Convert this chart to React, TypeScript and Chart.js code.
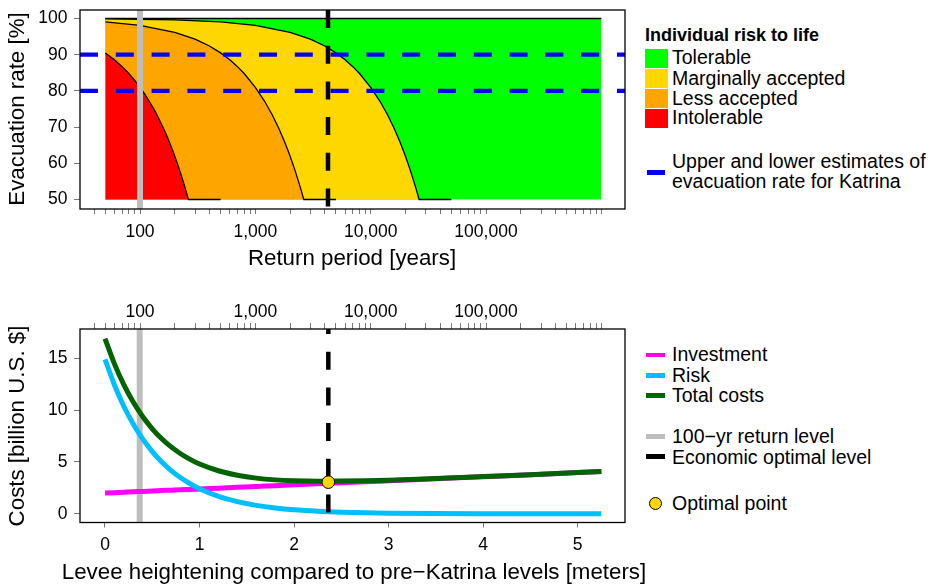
import React, { useEffect, useRef } from 'react';
import { Chart, registerables } from 'chart.js';

Chart.register(...registerables);

const FONT = "'Liberation Sans', Arial, Helvetica, sans-serif";

// ---------------- Top panel data ----------------
const returnPeriodTicks = [
  40, 50, 60, 70, 80, 90,
  100, 200, 300, 400, 500, 600, 700, 800, 900,
  1000, 2000, 3000, 4000, 5000, 6000, 7000, 8000, 9000,
  10000, 20000, 30000, 40000, 50000, 60000, 70000, 80000, 90000,
  100000, 200000, 300000, 400000, 500000, 600000, 700000, 800000, 900000,
  1000000,
];
const returnPeriodLabels = [100, 1000, 10000, 100000];
const evacuationTicks = [50, 60, 70, 80, 90, 100];
const katrinaEvacuation = [90, 80];
const returnPeriod100yr = 100;
const returnPeriodOptimal = 4266;

// Boundaries of the individual-risk classes (return period [years], evacuation rate [%])
const intolerableT = [50, 60, 70, 80, 90, 100, 110, 120, 135, 150, 165, 180, 195, 210, 225, 240, 252, 263, 500];
const intolerableE = [90.5, 88.6, 86.7, 84.8, 82.9, 81.0, 79.1, 77.2, 74.4, 71.5, 68.7, 65.8, 63.0, 60.1, 57.3, 54.4, 52.1, 50.0, 50.0];
const lessAcceptedT = [50, 100, 200, 300, 400, 500, 600, 700, 800, 1000, 1200, 1400, 1600, 1800, 2000, 2200, 2400, 2520, 2630, 5000];
const lessAcceptedE = [99.05, 98.1, 96.2, 94.3, 92.4, 90.5, 88.6, 86.7, 84.8, 81.0, 77.2, 73.4, 69.6, 65.8, 62.0, 58.2, 54.4, 52.1, 50.0, 50.0];
const marginalT = [50, 200, 500, 1000, 2000, 3000, 4000, 5000, 6000, 7000, 8000, 10000, 12000, 14000, 16000, 18000, 20000, 22000, 24000, 25200, 26300, 50000];
const marginalE = [99.9, 99.6, 99.05, 98.1, 96.2, 94.3, 92.4, 90.5, 88.6, 86.7, 84.8, 81.0, 77.2, 73.4, 69.6, 65.8, 62.0, 58.2, 54.4, 52.1, 50.0, 50.0];
const tolerableT = [50, 1000000];
const tolerableE = [100, 100];

const riskClasses = ['Tolerable', 'Marginally accepted', 'Less accepted', 'Intolerable'];
const riskColors = ['#00FF00', '#FFD700', '#FFA500', '#FF0000'];

// ---------------- Bottom panel data ----------------
const leveeHeight = [0, 0.1, 0.2, 0.3, 0.4, 0.5, 0.6, 0.7, 0.8, 0.9, 1.0, 1.2, 1.4, 1.6, 1.8, 2.0, 2.25, 2.5, 2.75, 3.0, 3.5, 4.0, 4.5, 5.0, 5.25];
const investmentCost = [2.00, 2.04, 2.08, 2.12, 2.16, 2.20, 2.24, 2.28, 2.32, 2.35, 2.39, 2.47, 2.55, 2.63, 2.71, 2.79, 2.89, 2.99, 3.08, 3.18, 3.38, 3.58, 3.77, 3.97, 4.07];
const riskCost = [14.9, 12.42, 10.35, 8.63, 7.20, 6.00, 5.00, 4.17, 3.47, 2.90, 2.41, 1.68, 1.17, 0.81, 0.56, 0.39, 0.25, 0.16, 0.10, 0.063, 0.025, 0.010, 0.004, 0.002, 0.001];
const totalCost = [16.90, 14.46, 12.43, 10.75, 9.36, 8.20, 7.24, 6.45, 5.79, 5.25, 4.80, 4.15, 3.72, 3.44, 3.27, 3.18, 3.14, 3.15, 3.18, 3.24, 3.41, 3.59, 3.77, 3.97, 4.07];
const costTicks = [0, 5, 10, 15];
const leveeTicks = [0, 1, 2, 3, 4, 5];
const levee100yr = 0.367;
const leveeOptimal = 2.362;
const optimalCost = 3.05;

const costSeries = ['Investment', 'Risk', 'Total costs'];
const costColors = ['#FF00FF', '#00BFFF', '#006400'];

// ---------------- helpers ----------------
const TOP_X_MIN = 30.18, TOP_X_MAX = 1.604e6, TOP_Y_MIN = 47.38, TOP_Y_MAX = 102.35;
const BOT_X_MIN = -0.2644, BOT_X_MAX = 5.5, BOT_Y_MIN = -0.84, BOT_Y_MAX = 17.82;

const tickFont = { family: FONT, size: 17.5, lineHeight: 1 };
const TICK_COLOR = '#777';

const xy = (xs: number[], ys: number[]) => xs.map((x, i) => ({ x, y: ys[i] }));

const lineDs = (data: any[], color: string, width: number, extra: any = {}) => ({
  data,
  xAxisID: 'x',
  yAxisID: 'y',
  showLine: true,
  borderColor: color,
  backgroundColor: color,
  borderWidth: width,
  pointRadius: 0,
  pointHoverRadius: 0,
  fill: false,
  tension: 0,
  ...extra,
});

const regionDs = (xs: number[], ys: number[], color: string) =>
  lineDs(xy(xs, ys), '#000', 1.3, { fill: { value: 50 }, backgroundColor: color });

const boxPlugin = {
  id: 'plotBox',
  afterDraw(chart: any) {
    const { ctx, chartArea: a } = chart;
    ctx.save();
    ctx.strokeStyle = '#000';
    ctx.lineWidth = 1.3;
    ctx.strokeRect(a.left, a.top, a.right - a.left, a.bottom - a.top);
    ctx.restore();
  },
};

const gridOpts = (len: number) => ({
  drawOnChartArea: false,
  drawTicks: true,
  tickLength: len,
  color: TICK_COLOR,
  lineWidth: 1,
});

const fixH = (h: number) => (s: any) => {
  s.height = h;
  s.paddingLeft = 0;
  s.paddingRight = 0;
  s.paddingTop = 0;
  s.paddingBottom = 0;
};
const fixW = (w: number) => (s: any) => {
  s.width = w;
  s.paddingLeft = 0;
  s.paddingRight = 0;
  s.paddingTop = 0;
  s.paddingBottom = 0;
};

const logAxis = (position: string, size: number, padding: number, tickLen: number) => ({
  type: 'logarithmic',
  position,
  min: TOP_X_MIN,
  max: TOP_X_MAX,
  display: true,
  afterBuildTicks: (s: any) => {
    s.ticks = returnPeriodTicks.map((v) => ({ value: v }));
  },
  afterFit: fixH(size),
  grid: gridOpts(tickLen),
  border: { display: false },
  ticks: {
    autoSkip: false,
    maxRotation: 0,
    minRotation: 0,
    font: tickFont,
    color: '#000',
    padding,
    callback: (v: any) => (returnPeriodLabels.includes(Number(v)) ? Number(v).toLocaleString('en-US') : ''),
  },
  title: { display: false },
});

const linAxis = (position: string, min: number, max: number, ticks: number[], fit: any, padding: number, tickLen: number) => ({
  type: 'linear',
  position,
  min,
  max,
  afterBuildTicks: (s: any) => {
    s.ticks = ticks.map((v) => ({ value: v }));
  },
  afterFit: fit,
  grid: gridOpts(tickLen),
  border: { display: false },
  ticks: { font: tickFont, color: '#000', padding, maxRotation: 0, autoSkip: false, callback: (v: any) => String(v) },
  title: { display: false },
});

const baseOptions = (padTop: number) => ({
  responsive: false,
  animation: false,
  devicePixelRatio: 1,
  events: [],
  layout: { padding: { top: padTop, right: 15, left: 0, bottom: 0 } },
  plugins: { legend: { display: false }, tooltip: { enabled: false } },
});

function topConfig(): any {
  const datasets = [
    lineDs([{ x: returnPeriodOptimal, y: TOP_Y_MAX }, { x: returnPeriodOptimal, y: TOP_Y_MIN }], '#000', 4.5, {
      borderDash: [18, 17.7],
    }),
    ...katrinaEvacuation.map((e) =>
      lineDs([{ x: TOP_X_MIN, y: e }, { x: TOP_X_MAX, y: e }], '#0000FF', 4.3, { borderDash: [18, 17.8] })
    ),
    lineDs([{ x: returnPeriod100yr, y: TOP_Y_MAX }, { x: returnPeriod100yr, y: TOP_Y_MIN }], '#BEBEBE', 6),
    regionDs(intolerableT, intolerableE, riskColors[3]),
    regionDs(lessAcceptedT, lessAcceptedE, riskColors[2]),
    regionDs(marginalT, marginalE, riskColors[1]),
    regionDs(tolerableT, tolerableE, riskColors[0]),
  ];
  return {
    type: 'scatter',
    data: { datasets },
    options: {
      ...baseOptions(10),
      scales: {
        x: logAxis('bottom', 71, 9.5, 5),
        y: linAxis('left', TOP_Y_MIN, TOP_Y_MAX, evacuationTicks, fixW(80), 6.5, 6),
      },
    },
    plugins: [boxPlugin],
  };
}

function bottomConfig(): any {
  const datasets = [
    {
      data: [{ x: leveeOptimal, y: optimalCost }],
      xAxisID: 'x',
      yAxisID: 'y',
      showLine: false,
      pointRadius: 6.3,
      pointHoverRadius: 6.3,
      pointBackgroundColor: '#FFD700',
      pointBorderColor: '#000',
      pointBorderWidth: 1,
    },
    lineDs([{ x: leveeOptimal, y: BOT_Y_MAX }, { x: leveeOptimal, y: BOT_Y_MIN }], '#000', 4.5, {
      borderDash: [18, 17.7],
      borderDashOffset: 13,
    }),
    lineDs(xy(leveeHeight, totalCost), costColors[2], 5, { cubicInterpolationMode: 'monotone' }),
    lineDs(xy(leveeHeight, riskCost), costColors[1], 5, { cubicInterpolationMode: 'monotone' }),
    lineDs(xy(leveeHeight, investmentCost), costColors[0], 5, { cubicInterpolationMode: 'monotone' }),
    lineDs([{ x: levee100yr, y: BOT_Y_MAX }, { x: levee100yr, y: BOT_Y_MIN }], '#BEBEBE', 6),
  ];
  return {
    type: 'scatter',
    data: { datasets },
    options: {
      ...baseOptions(0),
      scales: {
        x: linAxis('bottom', BOT_X_MIN, BOT_X_MAX, leveeTicks, fixH(61.5), 9, 5),
        y: linAxis('left', BOT_Y_MIN, BOT_Y_MAX, costTicks, fixW(80), 6.5, 6),
        x2: logAxis('top', 49, 2, 6),
      },
    },
    plugins: [boxPlugin],
  };
}

const TEXT = 19.5;
const CAP = 0.4885;

const textStyle = (left: number, centerY: number, size = TEXT, bold = false): React.CSSProperties => ({
  position: 'absolute',
  left,
  top: centerY - CAP * size,
  fontSize: size,
  lineHeight: `${size}px`,
  fontWeight: bold ? 'bold' : 'normal',
  whiteSpace: 'nowrap',
  color: '#000',
});

const axisTitle = (cx: number, cy: number, rotate: boolean): React.CSSProperties => ({
  position: 'absolute',
  left: cx,
  top: cy,
  fontSize: 22.3,
  lineHeight: '22.3px',
  whiteSpace: 'nowrap',
  color: '#000',
  transform: `translate(-50%, -50%)${rotate ? ' rotate(-90deg)' : ''}`,
});

const swatch = (left: number, centerY: number, color: string, w = 19, h = 4.7): React.CSSProperties => ({
  position: 'absolute',
  left,
  top: centerY - h / 2,
  width: w,
  height: h,
  background: color,
});

export default function App() {
  const topRef = useRef<HTMLCanvasElement>(null);
  const botRef = useRef<HTMLCanvasElement>(null);

  useEffect(() => {
    const c1 = new Chart(topRef.current as HTMLCanvasElement, topConfig());
    const c2 = new Chart(botRef.current as HTMLCanvasElement, bottomConfig());
    return () => {
      c1.destroy();
      c2.destroy();
    };
  }, []);

  const topTextCenters = [58, 78.3, 98.3, 118];
  const botLineCenters = [355, 375.3, 395.7];
  const botTextCenters = [355, 375.7, 396];

  return (
    <div
      style={{
        position: 'absolute',
        left: 0,
        top: 0,
        width: 934,
        height: 584,
        background: '#fff',
        overflow: 'hidden',
        fontFamily: FONT,
      }}
    >
      <canvas ref={topRef} width={640} height={280} style={{ position: 'absolute', left: 0, top: 0, width: 640, height: 280 }} />
      <canvas ref={botRef} width={640} height={304} style={{ position: 'absolute', left: 0, top: 280, width: 640, height: 304 }} />

      {/* Axis titles */}
      <div style={axisTitle(17, 108.5, true)}>Evacuation rate [%]</div>
      <div style={axisTitle(352, 257.5, false)}>Return period [years]</div>
      <div style={axisTitle(17, 425.5, true)}>Costs [billion U.S. $]</div>
      <div style={axisTitle(354, 572, false)}>Levee heightening compared to pre{'\u2212'}Katrina levels [meters]</div>

      {/* Top legend */}
      <div style={textStyle(645, 35, 18, true)}>Individual risk to life</div>
      {riskClasses.map((name, i) => (
        <React.Fragment key={name}>
          <div style={{ position: 'absolute', left: 645, top: 48.5 + 20 * i, width: 22.5, height: 19, background: riskColors[i] }} />
          <div style={textStyle(672, topTextCenters[i])}>{name}</div>
        </React.Fragment>
      ))}
      <div style={swatch(646.5, 172.3, '#0000FF', 18.5, 4.5)} />
      <div style={textStyle(672, 161.7)}>Upper and lower estimates of</div>
      <div style={textStyle(672, 181.7)}>evacuation rate for Katrina</div>

      {/* Bottom legend */}
      {costSeries.map((name, i) => (
        <React.Fragment key={name}>
          <div style={swatch(646, botLineCenters[i], costColors[i])} />
          <div style={textStyle(672, botTextCenters[i])}>{name}</div>
        </React.Fragment>
      ))}
      <div style={swatch(646, 436.7, '#BEBEBE')} />
      <div style={textStyle(672, 436.7)}>100{'\u2212'}yr return level</div>
      <div style={swatch(646, 456.7, '#000')} />
      <div style={textStyle(672, 457.3)}>Economic optimal level</div>
      <div
        style={{
          position: 'absolute',
          left: 655 - 6.5,
          top: 503.3 - 6.5,
          width: 13,
          height: 13,
          boxSizing: 'border-box',
          borderRadius: '50%',
          background: '#FFD700',
          border: '1px solid #000',
        }}
      />
      <div style={textStyle(672, 503.3)}>Optimal point</div>
    </div>
  );
}
